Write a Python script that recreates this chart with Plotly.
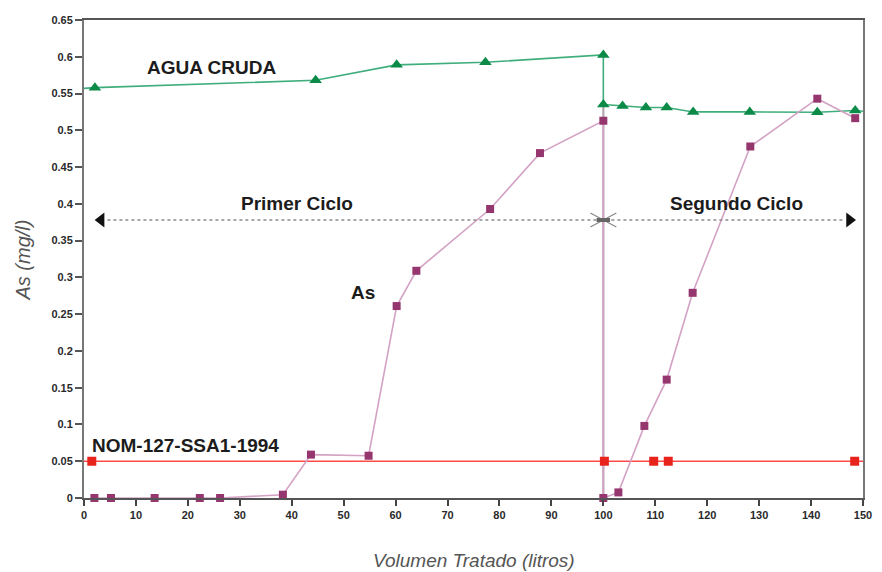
import plotly.graph_objects as go

# ---- data ----
agua_x = [0.0, 2.1, 44.6, 60.2, 77.3, 100.0, 100.0, 103.7, 108.2, 112.2, 117.3, 128.2, 141.2, 148.5, 150.0]
agua_y = [0.557, 0.558, 0.568, 0.589, 0.5925, 0.6025, 0.535, 0.533, 0.531, 0.531, 0.525, 0.525, 0.5245, 0.527, 0.526]
agua_marker = [False, True, True, True, True, True, True, True, True, True, True, True, True, True, False]

as_x = [2.0, 5.2, 13.6, 22.3, 26.2, 38.3, 43.7, 54.8, 60.2, 64.0, 78.2, 87.8, 100.0, 100.0,
        102.9, 107.9, 112.2, 117.2, 128.3, 141.2, 148.5]
as_y = [0.0, 0.0, 0.0, 0.0, 0.0, 0.0045, 0.059, 0.0575, 0.261, 0.309, 0.393, 0.469, 0.513, 0.0,
        0.0076, 0.098, 0.161, 0.279, 0.478, 0.543, 0.5165]

nom_x = [1.5, 100.2, 109.7, 112.5, 148.4]
nom_y = [0.05, 0.05, 0.05, 0.05, 0.05]
nom_limit = 0.05

x_ticks = list(range(0, 151, 10))
y_ticks = [round(i * 0.05, 2) for i in range(14)]

cycle_break = 100.0
arrow_y = 0.378
arrow_left = 3.3
arrow_right = 147.4

# ---- colours ----
GREEN_LINE = "#3fae7c"
GREEN_MARK = "#0b8a48"
AS_LINE = "#d3a2c4"
AS_MARK = "#96366f"
RED_LINE = "#ff4a4a"
RED_MARK = "#e8231c"
FONT = "Liberation Sans"

fig = go.Figure()

# NOM limit line across the whole axis
fig.add_shape(type="line", xref="paper", yref="y", x0=0, x1=1, y0=nom_limit, y1=nom_limit,
              line=dict(color=RED_LINE, width=1.5), layer="below")

# grey divider at the cycle break
fig.add_shape(type="line", xref="x", yref="y", x0=cycle_break, x1=cycle_break,
              y0=0, y1=agua_y[6], line=dict(color="#b3a6ae", width=2.2), layer="below")

# dotted cycle arrow line
fig.add_shape(type="line", xref="x", yref="y", x0=arrow_left + 1.2, x1=arrow_right - 1.2,
              y0=arrow_y, y1=arrow_y, line=dict(color="#8a8a8a", width=1.6, dash="dot"))
# crossing mark at the cycle break
dx, dy = 2.5, 0.0095
fig.add_shape(type="line", xref="x", yref="y", x0=cycle_break - dx, x1=cycle_break + dx,
              y0=arrow_y + dy, y1=arrow_y - dy, line=dict(color="#8a8a8a", width=1.3))
fig.add_shape(type="line", xref="x", yref="y", x0=cycle_break - dx, x1=cycle_break + dx,
              y0=arrow_y - dy, y1=arrow_y + dy, line=dict(color="#8a8a8a", width=1.3))
fig.add_shape(type="line", xref="x", yref="y", x0=cycle_break - 1.3, x1=cycle_break + 1.3,
              y0=arrow_y, y1=arrow_y, line=dict(color="#666666", width=4))

fig.add_trace(go.Scatter(x=[arrow_left], y=[arrow_y], mode="markers", cliponaxis=False,
                         marker=dict(symbol="triangle-left", size=13, color="#111111"),
                         hoverinfo="skip", showlegend=False))
fig.add_trace(go.Scatter(x=[arrow_right], y=[arrow_y], mode="markers", cliponaxis=False,
                         marker=dict(symbol="triangle-right", size=13, color="#111111"),
                         hoverinfo="skip", showlegend=False))

# AGUA CRUDA
fig.add_trace(go.Scatter(x=agua_x, y=agua_y, mode="lines", line=dict(color=GREEN_LINE, width=1.6),
                         showlegend=False, hoverinfo="skip"))
fig.add_trace(go.Scatter(x=[x for x, m in zip(agua_x, agua_marker) if m],
                         y=[y for y, m in zip(agua_y, agua_marker) if m],
                         mode="markers", cliponaxis=False,
                         marker=dict(symbol="triangle-up", size=11, color=GREEN_MARK),
                         name="AGUA CRUDA", showlegend=False))

# As
fig.add_trace(go.Scatter(x=as_x, y=as_y, mode="lines+markers", cliponaxis=False,
                         line=dict(color=AS_LINE, width=1.6),
                         marker=dict(symbol="square", size=8, color=AS_MARK),
                         name="As", showlegend=False))

# NOM markers
fig.add_trace(go.Scatter(x=nom_x, y=nom_y, mode="markers", cliponaxis=False,
                         marker=dict(symbol="square", size=9, color=RED_MARK),
                         name="NOM-127-SSA1-1994", showlegend=False))

lab = dict(family=FONT, size=19, color="#1c1c1c", weight="bold")
annotations = [
    dict(x=24.6, y=0.586, text="AGUA CRUDA", showarrow=False, font=lab, xanchor="center", yanchor="middle"),
    dict(x=41.0, y=0.4, text="Primer Ciclo", showarrow=False, font=lab, xanchor="center", yanchor="middle"),
    dict(x=125.7, y=0.3999, text="Segundo Ciclo", showarrow=False, font=lab, xanchor="center", yanchor="middle"),
    dict(x=53.8, y=0.28, text="As", showarrow=False, font=lab, xanchor="center", yanchor="middle"),
    dict(x=1.1, y=0.0715, text="NOM-127-SSA1-1994", showarrow=False, font=lab, xanchor="left", yanchor="middle"),
    dict(xref="paper", yref="paper", x=(22 - 84) / 788, y=(498.3 - 260) / 478.3, text="As (mg/l)",
         textangle=-90, showarrow=False, xanchor="center", yanchor="middle",
         font=dict(family=FONT, size=20, color="#555555", style="italic")),
    dict(xref="paper", yref="paper", x=0.5, y=(498.3 - 561) / 478.3, text="Volumen Tratado (litros)",
         showarrow=False, xanchor="center", yanchor="middle",
         font=dict(family=FONT, size=19, color="#555555", style="italic")),
]

fig.update_layout(
    width=882, height=572,
    margin=dict(l=84, r=10, t=20, b=74),
    paper_bgcolor="white", plot_bgcolor="white",
    showlegend=False,
    annotations=annotations,
    xaxis=dict(range=[0, 150], tickvals=x_ticks, ticktext=[str(v) for v in x_ticks],
               showgrid=False, zeroline=False, showline=True, linecolor="#555555", linewidth=2,
               mirror=True, ticks="outside", ticklen=6, tickwidth=1.5, tickcolor="#444444",
               tickfont=dict(family=FONT, size=11, color="#2a2a2a", weight="bold")),
    yaxis=dict(range=[0, 0.65], tickvals=y_ticks, ticktext=[f"{v:g}" for v in y_ticks],
               showgrid=False, zeroline=False, showline=True, linecolor="#777777", linewidth=2,
               mirror=True, ticks="outside", ticklen=7, tickwidth=1.5, tickcolor="#555555",
               tickfont=dict(family=FONT, size=11, color="#2a2a2a", weight="bold")),
)

fig.write_html("out.html")
